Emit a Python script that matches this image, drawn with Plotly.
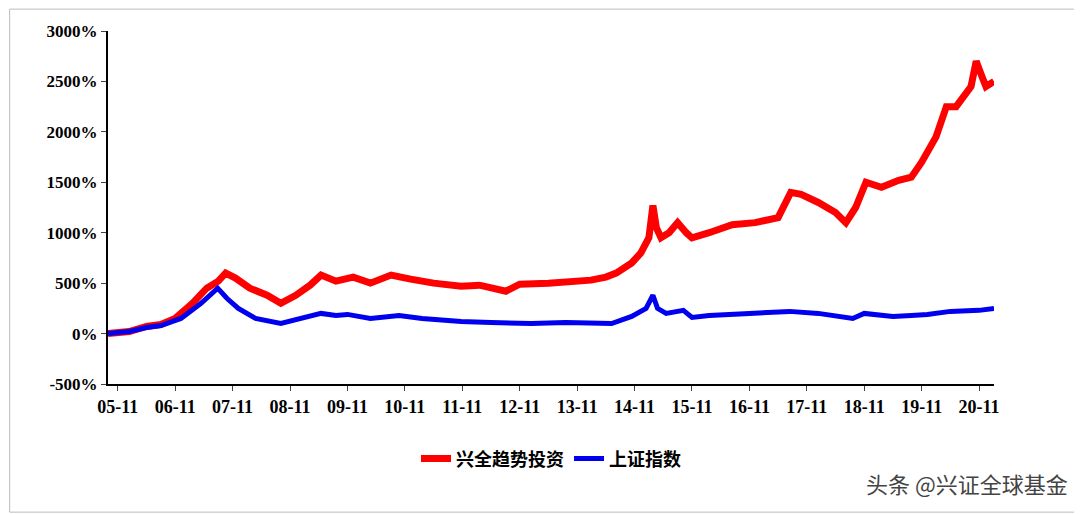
import plotly.graph_objects as go

# x in "years since 05-11" units (tick 0 = 05-11)
red_x = [-0.17,0.2,0.5,0.75,1.0,1.3,1.55,1.75,1.88,2.05,2.3,2.6,2.84,3.1,3.35,3.54,3.8,4.1,4.4,4.76,5.1,5.5,5.98,6.3,6.76,7.0,7.5,8.0,8.24,8.5,8.68,8.95,9.11,9.25,9.32,9.38,9.46,9.6,9.75,9.9,10.0,10.3,10.7,11.1,11.5,11.72,11.9,12.2,12.5,12.68,12.85,13.03,13.3,13.6,13.82,14.0,14.25,14.43,14.6,14.86,14.95,15.05,15.12,15.26]
red_y = [0,20,70,90,150,300,450,520,600,550,450,380,300,380,480,580,520,560,500,580,540,500,470,480,420,490,500,520,530,560,600,700,800,950,1270,1050,950,1000,1100,1000,950,1000,1080,1100,1150,1400,1380,1300,1200,1100,1250,1500,1450,1520,1550,1700,1950,2250,2250,2450,2700,2550,2450,2500]
blue_x = [-0.17,0.2,0.5,0.75,1.1,1.45,1.74,1.9,2.1,2.4,2.84,3.2,3.54,3.8,4.0,4.4,4.9,5.3,5.98,6.5,7.2,7.8,8.6,8.95,9.2,9.32,9.4,9.55,9.85,10.0,10.3,11.0,11.7,12.2,12.8,13.0,13.5,13.82,14.1,14.5,15.0,15.26]
blue_y = [0,20,60,80,150,300,450,350,250,150,100,150,200,180,190,150,180,150,120,110,100,110,100,170,250,380,250,200,230,160,180,200,220,200,150,200,170,180,190,220,230,250]
ticktext = [f"<b>{y:02d}-11</b>" for y in range(5, 21)]

fig = go.Figure()
fig.add_trace(go.Scatter(x=red_x, y=red_y, mode="lines", name="<b>兴全趋势投资</b>",
                         line=dict(color="#FF0000", width=7)))
fig.add_trace(go.Scatter(x=blue_x, y=blue_y, mode="lines", name="<b>上证指数</b>",
                         line=dict(color="#0000EE", width=5)))
serif = "Liberation Serif"
fig.update_layout(
    width=1082, height=514, paper_bgcolor="white", plot_bgcolor="white",
    margin=dict(l=100, r=96, t=23, b=138, autoexpand=False),
    font=dict(family=serif, size=17, color="black"),
    legend=dict(orientation="h", x=0.5, xanchor="center", y=-0.212, yanchor="middle",
                font=dict(family="Noto Sans CJK SC", size=18, color="black")),
    xaxis=dict(range=[-0.17, 15.26], tickvals=list(range(16)), ticktext=ticktext,
               showgrid=False, showline=True, linecolor="black", linewidth=2,
               ticks="outside", tickfont=dict(family=serif, size=18), zeroline=False,
               automargin=False),
    yaxis=dict(range=[-500, 3000], tickvals=list(range(-500, 3001, 500)),
               ticktext=[f"<b>{v}%</b>" for v in range(-500, 3001, 500)],
               showgrid=False, showline=True, linecolor="black", linewidth=2,
               ticks="outside", zeroline=False, tickfont=dict(family=serif, size=17),
               automargin=False),
    shapes=[dict(type="rect", xref="paper", yref="paper", x0=-0.111, x1=1.097, y0=-0.363, y1=1.062,
                 line=dict(color="#bbbbbb", width=1))],
    annotations=[dict(text="头条 @兴证全球基金", xref="paper", yref="paper", x=1.086, y=-0.28,
                      xanchor="right", yanchor="middle", showarrow=False,
                      font=dict(family="Noto Sans CJK SC", size=22, color="#444444"))],
)
fig.write_html("out.html")
